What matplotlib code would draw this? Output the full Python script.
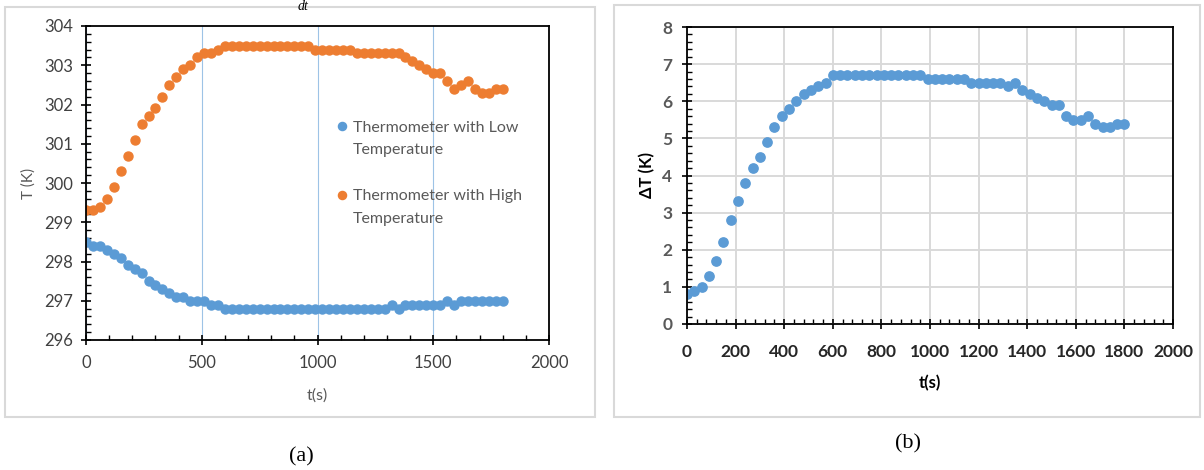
import numpy as np
import matplotlib.pyplot as plt
from matplotlib.patches import Rectangle
from matplotlib.ticker import MultipleLocator
from matplotlib.legend_handler import HandlerLine2D

plt.rcParams['font.family'] = ['Lato', 'DejaVu Sans']

# time stamps, every 30 s
t = np.arange(0, 1830, 30)

# thermometer readings (K)
T_low = [298.5, 298.4, 298.4, 298.3, 298.2, 298.1, 297.9, 297.8, 297.7, 297.5,
         297.4, 297.3, 297.2, 297.1, 297.1, 297.0, 297.0, 297.0, 296.9, 296.9,
         296.8, 296.8, 296.8, 296.8, 296.8, 296.8, 296.8, 296.8, 296.8, 296.8,
         296.8, 296.8, 296.8, 296.8, 296.8, 296.8, 296.8, 296.8, 296.8, 296.8,
         296.8, 296.8, 296.8, 296.8, 296.9, 296.8, 296.9, 296.9, 296.9, 296.9,
         296.9, 296.9, 297.0, 296.9, 297.0, 297.0, 297.0, 297.0, 297.0, 297.0,
         297.0]
T_high = [299.3, 299.3, 299.4, 299.6, 299.9, 300.3, 300.7, 301.1, 301.5, 301.7,
          301.9, 302.2, 302.5, 302.7, 302.9, 303.0, 303.2, 303.3, 303.3, 303.4,
          303.5, 303.5, 303.5, 303.5, 303.5, 303.5, 303.5, 303.5, 303.5, 303.5,
          303.5, 303.5, 303.5, 303.4, 303.4, 303.4, 303.4, 303.4, 303.4, 303.3,
          303.3, 303.3, 303.3, 303.3, 303.3, 303.3, 303.2, 303.1, 303.0, 302.9,
          302.8, 302.8, 302.6, 302.4, 302.5, 302.6, 302.4, 302.3, 302.3, 302.4,
          302.4]

# temperature difference (K)
dT = [0.8, 0.9, 1.0, 1.3, 1.7, 2.2, 2.8, 3.3, 3.8, 4.2,
      4.5, 4.9, 5.3, 5.6, 5.8, 6.0, 6.2, 6.3, 6.4, 6.5,
      6.7, 6.7, 6.7, 6.7, 6.7, 6.7, 6.7, 6.7, 6.7, 6.7,
      6.7, 6.7, 6.7, 6.6, 6.6, 6.6, 6.6, 6.6, 6.6, 6.5,
      6.5, 6.5, 6.5, 6.5, 6.4, 6.5, 6.3, 6.2, 6.1, 6.0,
      5.9, 5.9, 5.6, 5.5, 5.5, 5.6, 5.4, 5.3, 5.3, 5.4,
      5.4]

blue = '#5B9BD5'
orange = '#ED7D31'
gray = '#595959'

W, H = 1204, 470
fig = plt.figure(figsize=(W / 100, H / 100), dpi=100)


def px_box(x0, y0, x1, y1):
    return [x0 / W, 1 - y1 / H, (x1 - x0) / W, (y1 - y0) / H]


# panel frames
for x0, y0, x1, y1 in [(5, 7, 595, 417), (614, 5, 1200, 417)]:
    b = px_box(x0, y0, x1, y1)
    fig.patches.append(Rectangle((b[0], b[1]), b[2], b[3], transform=fig.transFigure,
                                 fill=False, edgecolor='#D9D9D9', linewidth=1.5))


def style_ticks(ax, size):
    ax.tick_params(which='major', direction='inout', length=7, width=1.2,
                   colors='black', labelsize=size)
    ax.tick_params(which='minor', direction='in', length=3.5, width=1.0, colors='black')
    for s in ax.spines.values():
        s.set_color('black')
        s.set_linewidth(1.3)


class FirstLineHandler(HandlerLine2D):
    # keep the legend dot level with the first line of a wrapped label
    def create_artists(self, legend, orig_handle, xdescent, ydescent,
                       width, height, fontsize, trans):
        arts = super().create_artists(legend, orig_handle, xdescent, ydescent,
                                      width, height, fontsize, trans)
        for a in arts:
            a.set_ydata([y + 0.8 * fontsize for y in a.get_ydata()])
        return arts


# (a) thermometer readings
ax1 = fig.add_axes(px_box(86, 26, 549, 340))
ax1.plot(t, T_low, 'o', ms=6.5, color=blue, label='Thermometer with Low\nTemperature')
ax1.plot(t, T_high, 'o', ms=6.5, color=orange, label='Thermometer with High\nTemperature')
ax1.set_xlim(0, 2000)
ax1.set_ylim(296, 304)
ax1.xaxis.set_major_locator(MultipleLocator(500))
ax1.xaxis.set_minor_locator(MultipleLocator(100))
ax1.yaxis.set_major_locator(MultipleLocator(1))
ax1.yaxis.set_minor_locator(MultipleLocator(0.2))
ax1.grid(axis='x', which='major', color='#9DC3E6', linewidth=0.8)
ax1.set_axisbelow(True)
style_ticks(ax1, 12)
ax1.tick_params(axis='x', which='major', pad=7)
ax1.tick_params(axis='y', which='major', pad=6)
for lab in ax1.get_xticklabels() + ax1.get_yticklabels():
    lab.set_color('#404040')
ax1.set_xlabel('t(s)', fontsize=11.5, color=gray, labelpad=13)
ax1.set_ylabel('T (K)', fontsize=11, color=gray, labelpad=6)
leg = ax1.legend(loc='upper left', bbox_to_anchor=(0.52, 0.724), frameon=False,
                 fontsize=11.5, labelspacing=2.0, handletextpad=0.25, borderpad=0,
                 handlelength=0.9, markerscale=0.9,
                 handler_map={plt.Line2D: FirstLineHandler()})
for txt in leg.get_texts():
    txt.set_color(gray)
    txt.set_linespacing(1.8)

# (b) temperature difference
ax2 = fig.add_axes(px_box(687, 27, 1173, 324))
ax2.plot(t, dT, 'o', ms=6.7, color=blue)
ax2.set_xlim(0, 2000)
ax2.set_ylim(0, 8)
ax2.xaxis.set_major_locator(MultipleLocator(200))
ax2.xaxis.set_minor_locator(MultipleLocator(40))
ax2.yaxis.set_major_locator(MultipleLocator(1))
ax2.yaxis.set_minor_locator(MultipleLocator(0.2))
ax2.grid(which='major', color='#D9D9D9', linewidth=1.4)
ax2.set_axisbelow(True)
style_ticks(ax2, 12.5)
ax2.tick_params(axis='x', which='major', pad=11)
ax2.tick_params(axis='y', which='major', pad=7)
for lab in ax2.get_xticklabels():
    lab.set_fontweight('bold')
    lab.set_color('#262626')
for lab in ax2.get_yticklabels():
    lab.set_fontweight('bold')
    lab.set_color(gray)
ax2.set_xlabel('t(s)', fontsize=12, fontweight='bold', labelpad=11)
ax2.set_ylabel('ΔT (K)', fontsize=12, fontweight='bold', labelpad=5)

# sub-figure captions
fig.text(301 / W, 1 - 457 / H, '(a)', ha='center', va='center',
         family='Liberation Serif', fontsize=16)
fig.text(908 / W, 1 - 444 / H, '(b)', ha='center', va='center',
         family='Liberation Serif', fontsize=16)
fig.text(303 / W, 1.0, 'dt', ha='center', va='top',
         family='Liberation Serif', style='italic', fontsize=10)

fig.savefig('out.png', dpi=100)
